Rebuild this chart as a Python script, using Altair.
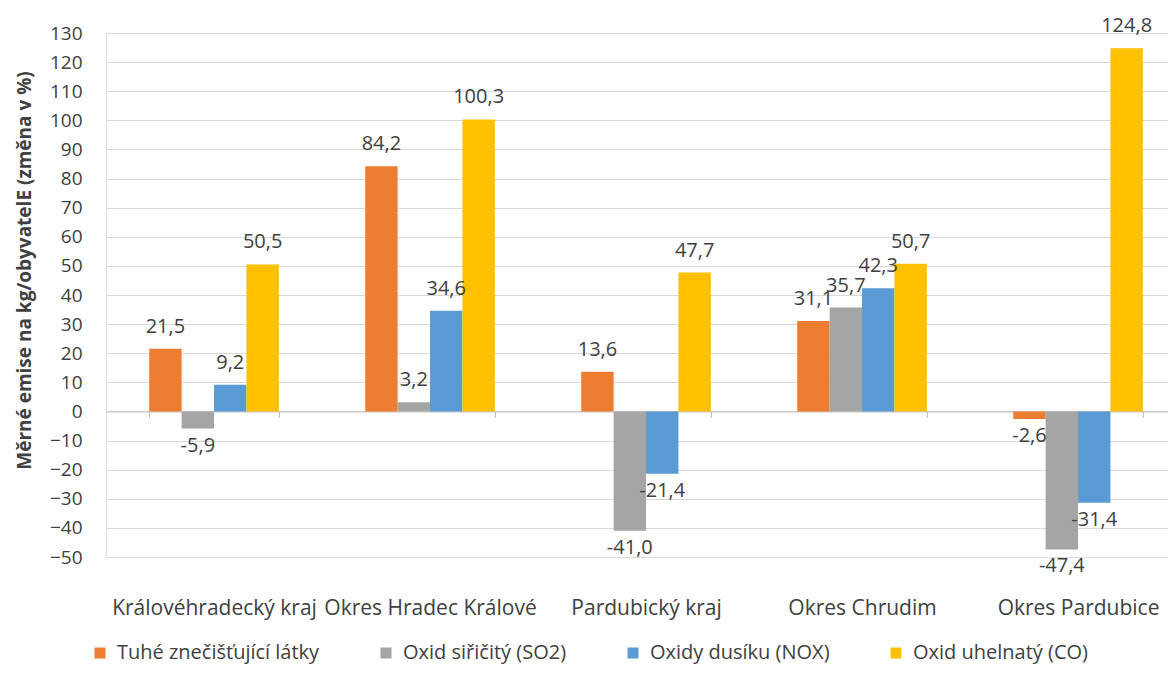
import altair as alt
import pandas as pd

categories = ["Královéhradecký kraj", "Okres Hradec Králové", "Pardubický kraj", "Okres Chrudim", "Okres Pardubice"]
series = ["Tuhé znečišťující látky", "Oxid siřičitý (SO2)", "Oxidy dusíku (NOX)", "Oxid uhelnatý (CO)"]
colors = ["#ED7D31", "#A5A5A5", "#5B9BD5", "#FFC000"]
tzl = [21.5, 84.2, 13.6, 31.1, -2.6]
so2 = [-5.9, 3.2, -41.0, 35.7, -47.4]
nox = [9.2, 34.6, -21.4, 42.3, -31.4]
co = [50.5, 100.3, 47.7, 50.7, 124.8]
y_ticks = list(range(-50, 131, 10))

rows = []
for s, vals in zip(series, [tzl, so2, nox, co]):
    for c, v in zip(categories, vals):
        rows.append({"cat": c, "ser": s, "val": v, "lab": f"{v:.1f}".replace(".", ",")})
df = pd.DataFrame(rows)

FONT = "Open Sans"
TXT = "#404040"
W, H = 1062, 524
Y_MIN, Y_MAX = -50, 130
zero_offset = -H * (0 - Y_MIN) / (Y_MAX - Y_MIN)

yscale = alt.Scale(domain=[Y_MIN, Y_MAX], nice=False, zero=False)

base = alt.Chart(df).encode(
    x=alt.X("cat:N", sort=categories,
            scale=alt.Scale(paddingInner=0.4, paddingOuter=0.1583, align=0.632),
            axis=alt.Axis(title=None, labelAngle=0, domain=True, domainColor="#BFBFBF",
                          domainWidth=1, ticks=True, tickBand="extent", tickSize=6,
                          tickColor="#BFBFBF", offset=zero_offset,
                          labelPadding=-zero_offset + 34, labelFontSize=21, labelColor=TXT,
                          labelFont=FONT, labelLimit=400)),
    xOffset=alt.XOffset("ser:N", sort=series,
                        scale=alt.Scale(paddingInner=0, paddingOuter=0)),
)

bars = base.mark_bar().encode(
    y=alt.Y("val:Q", scale=yscale,
            axis=alt.Axis(values=y_ticks, tickCount=len(y_ticks) + 2,
                          title="Měrné emise na kg/obyvatelE (změna v %)",
                          titleFont=FONT, titleFontSize=19, titleFontWeight="bold",
                          titleColor=TXT, titlePadding=15, titleY=237,
                          labelFont=FONT, labelFontSize=19, labelColor=TXT,
                          labelPadding=24, labelOverlap=False, domain=False, ticks=False,
                          gridColor="#D9D9D9", gridWidth=1)),
    color=alt.Color("ser:N", sort=series,
                    scale=alt.Scale(domain=series, range=colors),
                    legend=alt.Legend(title=None, orient="none", direction="horizontal",
                                      legendX=-16, legendY=610,
                                      symbolType="square", symbolSize=121,
                                      symbolStrokeWidth=0,
                                      labelFont=FONT, labelFontSize=20,
                                      labelColor=TXT, labelOffset=7,
                                      columnPadding=56, labelLimit=400)),
)

pos_labels = base.transform_filter(alt.datum.val >= 0).mark_text(
    baseline="bottom", dy=-12, font=FONT, fontSize=20, color=TXT
).encode(y=alt.Y("val:Q", scale=yscale), text="lab:N")

neg_labels = base.transform_filter(alt.datum.val < 0).mark_text(
    baseline="top", dy=7, font=FONT, fontSize=20, color=TXT
).encode(y=alt.Y("val:Q", scale=yscale), text="lab:N")

chart = alt.layer(bars, pos_labels, neg_labels).properties(
    width=W, height=H,
    autosize=alt.AutoSizeParams(type="none"),
    padding={"left": 98, "top": 25, "right": 0, "bottom": 112},
).configure_view(stroke=None).configure(background="white")

chart.save("out.html", embed_options={"renderer": "svg", "actions": False})
